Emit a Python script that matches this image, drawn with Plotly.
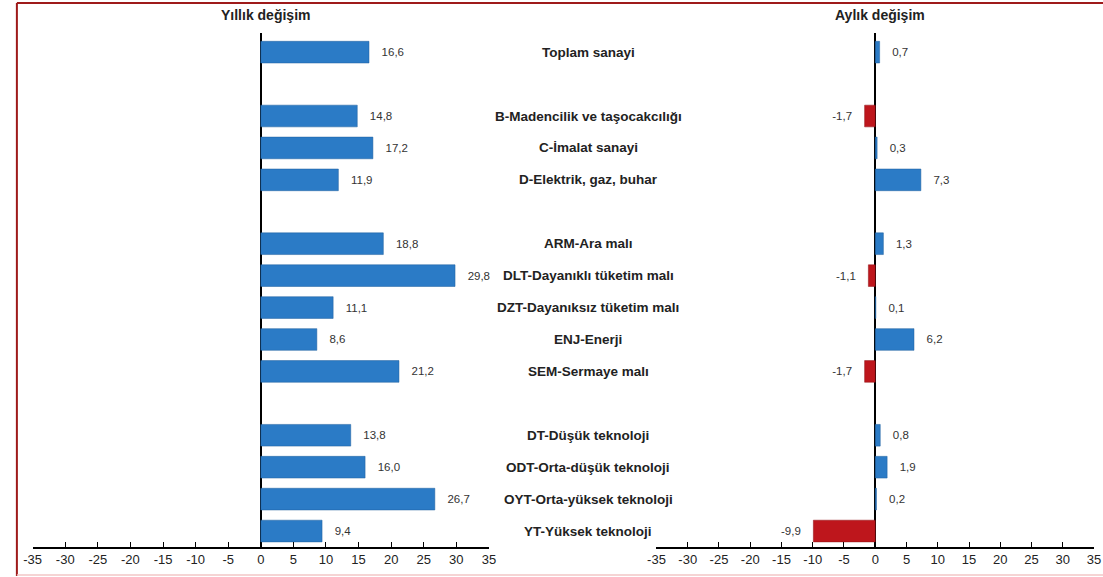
import plotly.graph_objects as go

# ---- data ----
groups = [
    ["Toplam sanayi"],
    ["B-Madencilik ve taşocakcılığı", "C-İmalat sanayi", "D-Elektrik, gaz, buhar"],
    ["ARM-Ara malı", "DLT-Dayanıklı tüketim malı", "DZT-Dayanıksız tüketim malı",
     "ENJ-Enerji", "SEM-Sermaye malı"],
    ["DT-Düşük teknoloji", "ODT-Orta-düşük teknoloji", "OYT-Orta-yüksek teknoloji",
     "YT-Yüksek teknoloji"],
]
yillik = [16.6, 14.8, 17.2, 11.9, 18.8, 29.8, 11.1, 8.6, 21.2, 13.8, 16.0, 26.7, 9.4]
aylik = [0.7, -1.7, 0.3, 7.3, 1.3, -1.1, 0.1, 6.2, -1.7, 0.8, 1.9, 0.2, -9.9]
tick_vals = [-35, -30, -25, -20, -15, -10, -5, 0, 5, 10, 15, 20, 25, 30, 35]
title_left = "Yıllık değişim"
title_right = "Aylık değişim"

# ---- derived row positions (one blank row between groups) ----
categories, slots = [], []
s = 0
for g in groups:
    for c in g:
        categories.append(c)
        slots.append(s)
        s += 1
    s += 1

BLUE = "#2B7BC6"
RED = "#BE161C"
NB = "\u00a0"
FONT = "Liberation Sans, Arial"

def fmt(v):
    t = f"{v:.1f}".replace(".", ",")
    return (NB * 3 + t) if v >= 0 else (t + NB * 3)

W, H = 1103, 577
px = lambda x: x / W
py = lambda y: 1 - y / H

fig = go.Figure()
fig.add_trace(go.Bar(
    x=yillik, y=slots, orientation="h", xaxis="x", yaxis="y",
    marker=dict(color=[BLUE if v >= 0 else RED for v in yillik],
                line=dict(color="#1E5E9C", width=0.5)),
    width=0.68, text=[fmt(v) for v in yillik], textposition="outside",
    textfont=dict(family=FONT, size=11.5, color="#333333"),
    cliponaxis=False, constraintext="none", hoverinfo="skip"))
fig.add_trace(go.Bar(
    x=aylik, y=slots, orientation="h", xaxis="x2", yaxis="y2",
    marker=dict(color=[BLUE if v >= 0 else RED for v in aylik],
                line=dict(color=["#1E5E9C" if v >= 0 else "#8E1014" for v in aylik], width=0.5)),
    width=0.68, text=[fmt(v) for v in aylik], textposition="outside",
    textfont=dict(family=FONT, size=11.5, color="#333333"),
    cliponaxis=False, constraintext="none", hoverinfo="skip"))

yr = [15.5, -0.6]
xcommon = dict(range=[-35, 35], tickvals=tick_vals, ticktext=[str(v) for v in tick_vals],
               showgrid=False,
               zeroline=True, zerolinecolor="black", zerolinewidth=1.5,
               showline=True, linecolor="black", linewidth=1.5,
               ticks="inside", ticklen=5, tickcolor="black", tickwidth=1,
               tickfont=dict(family=FONT, size=13, color="#222222"),
               fixedrange=True)
ycommon = dict(range=yr, showgrid=False, zeroline=False, showticklabels=False,
               ticks="", showline=False, domain=[py(547), py(33)], fixedrange=True)

fig.update_layout(
    width=W, height=H, margin=dict(l=0, r=0, t=0, b=0),
    paper_bgcolor="white", plot_bgcolor="white", showlegend=False,
    separators=",.",
    xaxis=dict(domain=[px(24), px(487)], anchor="y", **xcommon),
    xaxis2=dict(domain=[px(657), px(1101)], anchor="y2", **xcommon),
    yaxis=dict(anchor="x", **ycommon),
    yaxis2=dict(anchor="x2", **ycommon),
)

# category labels in the middle
for c, sl in zip(categories, slots):
    fig.add_annotation(x=px(588), xref="paper", y=sl, yref="y", text=f"<b>{c}</b>",
                       showarrow=False, xanchor="center", yanchor="middle",
                       font=dict(family=FONT, size=13.5, color="#222222"))

# panel titles
fig.add_annotation(x=px(260), y=py(15), xref="paper", yref="paper", text=f"<b>{title_left}</b>",
                   showarrow=False, xanchor="center", yanchor="middle",
                   font=dict(family=FONT, size=14, color="#222222"))
fig.add_annotation(x=px(884), y=py(15), xref="paper", yref="paper", text=f"<b>{title_right}</b>",
                   showarrow=False, xanchor="center", yanchor="middle",
                   font=dict(family=FONT, size=14, color="#222222"))

# frame
fig.add_shape(type="line", xref="paper", yref="paper", x0=px(8), x1=1.01, y0=py(3), y1=py(3),
              line=dict(color="#9E1A1A", width=2))
fig.add_shape(type="line", xref="paper", yref="paper", x0=px(8), x1=px(8), y0=py(3), y1=py(576),
              line=dict(color="#9E1A1A", width=2))
fig.add_shape(type="line", xref="paper", yref="paper", x0=px(8), x1=1.01, y0=py(575), y1=py(575),
              line=dict(color="#F2C6C6", width=1.5))

fig.write_html("out.html", config={"displayModeBar": False},
               post_script="document.body.style.margin='0';document.body.style.overflow='hidden';")
